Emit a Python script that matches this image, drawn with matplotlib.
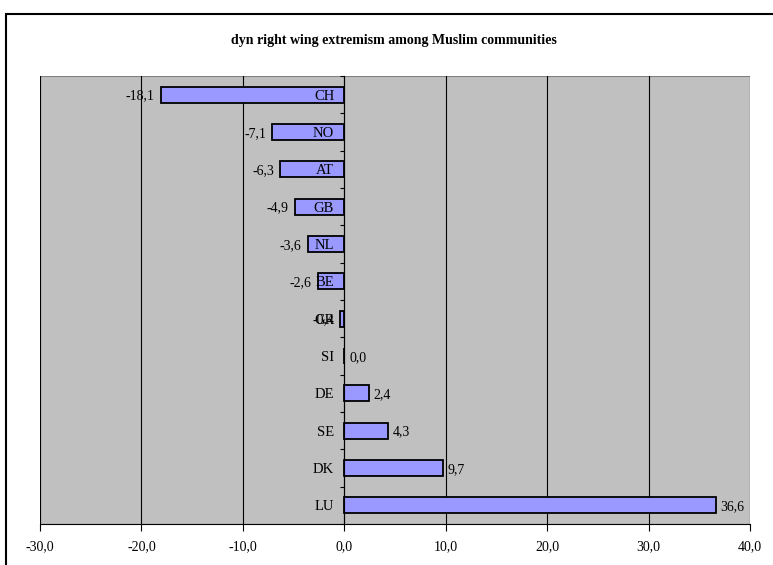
import numpy as np
import matplotlib
matplotlib.use('Agg')
from matplotlib import pyplot as plt
from matplotlib.patches import Rectangle
from matplotlib.ticker import FuncFormatter

plt.rcParams['font.family'] = ['Liberation Serif', 'DejaVu Serif']

# countries, top to bottom
countries = ['CH', 'NO', 'AT', 'GB', 'NL', 'BE', 'GR', 'SI', 'DE', 'SE', 'DK', 'LU']
values = [-18.1, -7.1, -6.3, -4.9, -3.6, -2.6, -0.4, 0.0, 2.4, 4.3, 9.7, 36.6]
xticks = [-30, -20, -10, 0, 10, 20, 30, 40]

def comma(v):
    return ('%.1f' % v).replace('.', ',')

fig = plt.figure(figsize=(7.73, 5.65), dpi=100)
ax = fig.add_axes([0.0517, 0.0726, 0.9186, 0.7929])
ax.set_facecolor('#C0C0C0')

pos = np.arange(len(countries))
ax.barh(pos, values, height=0.43, color='#9999FF', edgecolor='black', linewidth=1.3, zorder=3)

ax.set_xlim(-30, 40)
ax.set_ylim(len(countries) - 0.5, -0.5)
ax.set_xticks(xticks)
ax.xaxis.set_major_formatter(FuncFormatter(lambda v, p: comma(v)))
ax.tick_params(axis='x', direction='out', length=5, width=0.8, labelsize=10, pad=7)
ax.grid(axis='x', color='black', linewidth=0.8, zorder=1)

# category axis sits at zero, ticks between categories
ax.spines['left'].set_position(('data', 0))
ax.spines['left'].set_zorder(4)
ax.set_yticks(np.arange(len(countries) + 1) - 0.5)
ax.set_yticklabels([])
ax.tick_params(axis='y', direction='out', length=3, width=0.8)
for s in ['top', 'right']:
    ax.spines[s].set_visible(False)
ax.spines['bottom'].set_linewidth(0.8)
ax.add_patch(Rectangle((0, 0), 1, 1, transform=ax.transAxes, fill=False,
                       edgecolor='#808080', linewidth=0.8, zorder=0.5))

for y, (name, v) in enumerate(zip(countries, values)):
    ax.text(-1.0, y, name, ha='right', va='center_baseline', fontsize=10.5, zorder=5)
    if v < 0:
        ax.text(v - 0.6, y, comma(v), ha='right', va='center_baseline', fontsize=10, zorder=5)
    else:
        ax.text(v + 0.5, y, comma(v), ha='left', va='center_baseline', fontsize=10, zorder=5)

fig.text(0.51, 0.929, 'dyn right wing extremism among Muslim communities',
         ha='center', va='center', fontsize=10, fontweight='bold')

# chart frame
fig.add_artist(Rectangle((0.0078, -0.1), 1.1, 1.075, transform=fig.transFigure,
                         fill=False, edgecolor='black', linewidth=1.5))

fig.savefig('out.png', dpi=100)
